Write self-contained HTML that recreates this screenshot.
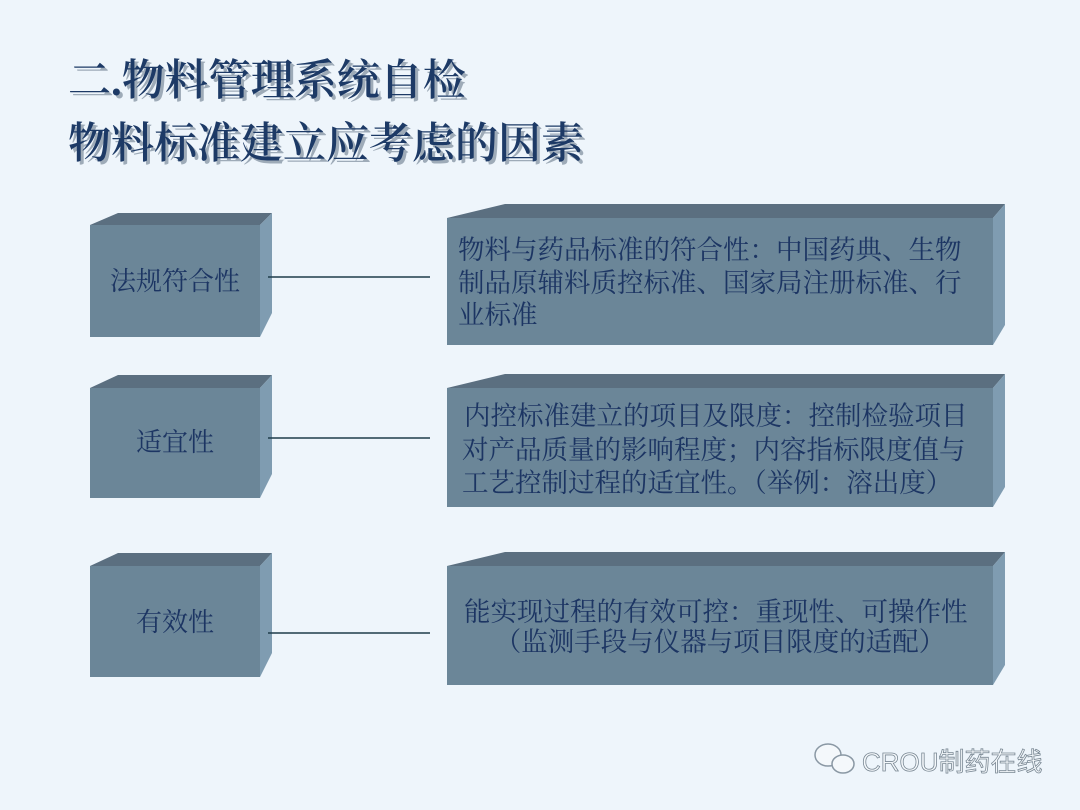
<!DOCTYPE html>
<html><head><meta charset="utf-8"><style>
html,body{margin:0;padding:0;background:#eef5fb;}
svg{display:block}
text{font-family:"Liberation Serif","Noto Serif CJK SC","Noto Sans CJK SC",serif;}
text.s{font-family:"Liberation Sans","Noto Sans CJK SC",sans-serif;}
</style></head><body>
<svg width="1080" height="810" viewBox="0 0 1080 810" xmlns="http://www.w3.org/2000/svg">
<rect width="1080" height="810" fill="#eef5fb"/>
<g font-size="43" fill="#1d3a66" font-weight="600">
<text x="71" y="98" fill="#7d8c9c" opacity="0.7">二.物料管理系统自检</text>
<text x="68" y="95">二.物料管理系统自检</text>
<text x="71" y="161" fill="#7d8c9c" opacity="0.7">物料标准建立应考虑的因素</text>
<text x="68" y="158">物料标准建立应考虑的因素</text>
</g>
<g>
<polygon points="90,225 118,213 272,213 260,225" fill="#5b6f80"/>
<polygon points="260,225 272,213 272,313 260,337" fill="#7f9cb1"/>
<rect x="90" y="225" width="170" height="112" fill="#6b8698"/>
<polygon points="90,388 118,375 272,375 260,388" fill="#5b6f80"/>
<polygon points="260,388 272,375 272,474 260,498" fill="#7f9cb1"/>
<rect x="90" y="388" width="170" height="110" fill="#6b8698"/>
<polygon points="90,566 118,553 272,553 260,566" fill="#5b6f80"/>
<polygon points="260,566 272,553 272,653 260,677" fill="#7f9cb1"/>
<rect x="90" y="566" width="170" height="111" fill="#6b8698"/>
</g>
<g>
<polygon points="447,218 505,204 1005,204 993,218" fill="#5b6f80"/>
<polygon points="993,218 1005,204 1005,325 993,345" fill="#7f9cb1"/>
<rect x="447" y="218" width="546" height="127" fill="#6b8698"/>
<polygon points="447,388 505,374 1005,374 993,388" fill="#5b6f80"/>
<polygon points="993,388 1005,374 1005,487 993,507" fill="#7f9cb1"/>
<rect x="447" y="388" width="546" height="119" fill="#6b8698"/>
<polygon points="447,566 505,552 1005,552 993,566" fill="#5b6f80"/>
<polygon points="993,566 1005,552 1005,665 993,685" fill="#7f9cb1"/>
<rect x="447" y="566" width="546" height="119" fill="#6b8698"/>
</g>
<g stroke="#1e3d4a" stroke-width="1.5">
<line x1="268" y1="277" x2="430" y2="277"/>
<line x1="268" y1="438" x2="430" y2="438"/>
<line x1="268" y1="633" x2="430" y2="633"/>
</g>
<g font-size="26" fill="#1c3563" text-anchor="middle">
<text x="175" y="290">法规符合性</text>
<text x="175" y="451">适宜性</text>
<text x="175" y="631">有效性</text>
</g>
<g font-size="26.5" fill="#1c3563">
<text x="458" y="259">物料与药品标准的符合性：中国药典、生物</text>
<text x="458" y="292">制品原辅料质控标准、国家局注册标准、行</text>
<text x="458" y="324">业标准</text>
<text x="464" y="425">内控标准建立的项目及限度：控制检验项目</text>
<text x="462" y="459">对产品质量的影响程度；内容指标限度值与</text>
<text x="462" y="492">工艺控制过程的适宜性。（举例：溶出度）</text>
<text x="464" y="621">能实现过程的有效可控：重现性、可操作性</text>
<text x="720" y="651" text-anchor="middle">（监测手段与仪器与项目限度的适配）</text>
</g>
<g fill="#f4f8fb" stroke="#8a98a4" stroke-width="1.5">
<ellipse cx="828" cy="755" rx="13" ry="11"/>
<ellipse cx="843" cy="764" rx="11" ry="9"/>
</g>
<text class="s" x="862" y="771" font-size="26" fill="#f4f8fb" stroke="#7a8894" stroke-width="0.8">CROU制药在线</text>
</svg>
</body></html>
